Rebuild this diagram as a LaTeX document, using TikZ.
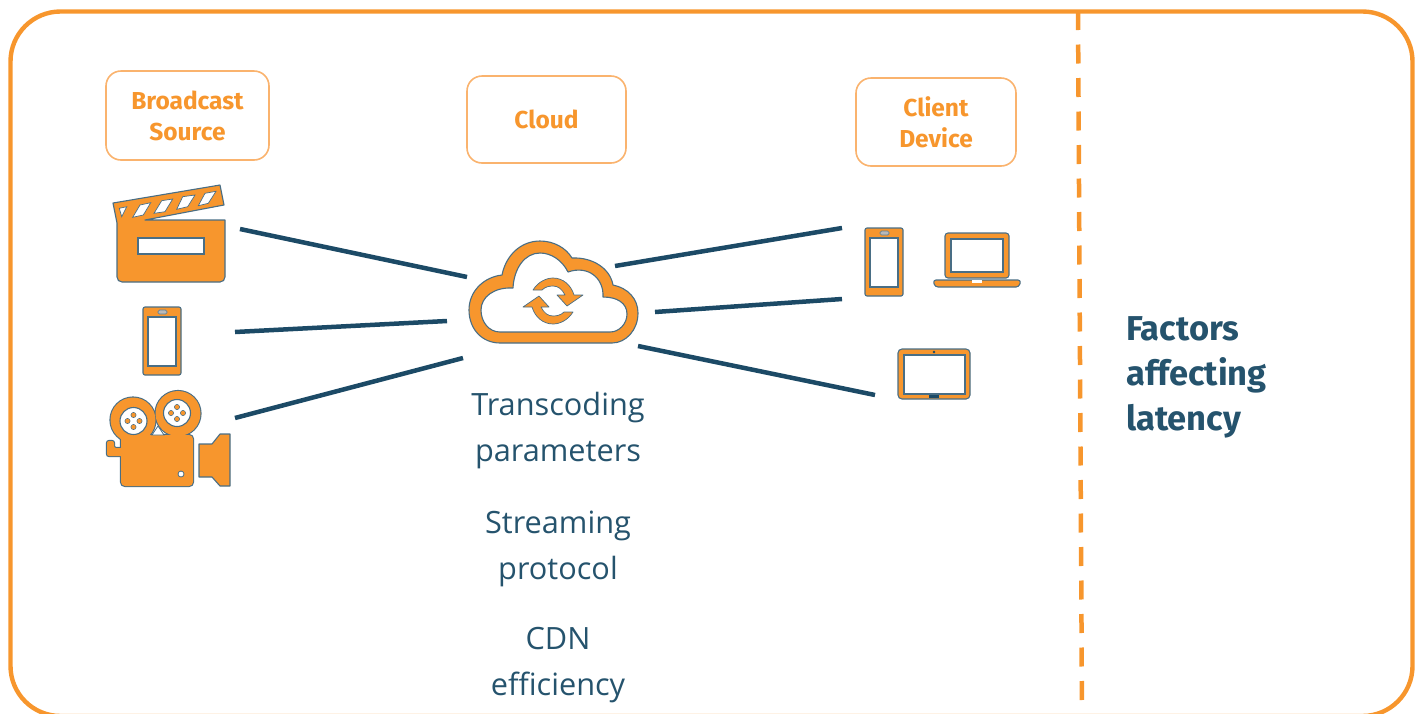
\documentclass[tikz,border=0pt]{standalone}
\usepackage{fontspec}
\setmainfont{Open Sans}
\newfontfamily\labelfont{Fira Sans}
\definecolor{org}{HTML}{F7962D}
\definecolor{orgl}{HTML}{FAB36E}
\definecolor{navy}{HTML}{1C4A66}
\definecolor{txt}{HTML}{25536D}
\tikzset{
  x=1pt,y=-1pt,
  frame/.style={draw=org,line width=4.4pt,rounded corners=50pt},
  headbox/.style={draw=orgl,line width=1.6pt,rounded corners=15pt,fill=white,inner sep=0pt,align=center,text=org,
    font=\labelfont\fontsize{24.5}{31}\selectfont\fontseries{sb}\selectfont},
  link/.style={draw=navy,line width=4.5pt},
  icon/.style={fill=org,draw=navy!80!white,line width=1.1pt,line join=round},
  hole/.style={fill=white,draw=navy!80!white,line width=1.1pt},
  factor/.style={text=txt,align=center,inner sep=0pt,font=\fontsize{30.7}{46}\selectfont},
  phoneicon/.pic={
    \draw[icon,rounded corners=2pt] (0,0) rectangle (38,68);
    \draw[hole] (5,10) rectangle (33,59);
    \draw[fill=gray!55,draw=navy!70!white,line width=.7pt,rounded corners=1.5pt] (15,3) rectangle (24,7);
  }
}
\newcommand{\camerashape}[1]{
  \path[#1] (133,420) circle (22.5);
  \path[#1] (178,413.5) circle (22.5);
  \path[#1,rounded corners=4pt] (121,435) -- (193,435) -- (193,486) -- (121,486) -- cycle;
  \path[#1,rounded corners=2pt] (124,448) -- (114,448) -- (114,441) -- (107,441) -- (107,456) -- (114,456) -- (124,456) -- cycle;
}
\begin{document}
\begin{tikzpicture}
\useasboundingbox (0,0) rectangle (1421,713);
\begin{scope}
\clip (0,0) rectangle (1421,713);
\draw[frame] (10.5,11.5) rectangle (1412.5,716);
\end{scope}
\coordinate (dashA) at (1078,11);
\coordinate (dashB) at (1082,713);
\draw[draw=org,line width=4.5pt,dash pattern=on 19pt off 14.5pt] (dashA) -- (dashB);

\node[headbox,minimum width=163pt,minimum height=89pt] (src) at (187.5,115.5) {Broadcast\\Source};
\node[headbox,minimum width=159pt,minimum height=87pt] (cld) at (546.5,119.5) {Cloud};
\node[headbox,minimum width=160pt,minimum height=88pt] (cli) at (936,122) {Client\\Device};

% clapperboard
\draw[icon] (113,203) -- (220,185) -- (224,205) -- (145,220) -- (225,220) [rounded corners=5pt] -- (225,282) -- (117,282) [sharp corners] -- (117,223) -- cycle;
\draw[hole] (138,238) rectangle (204,254);
\draw[hole,line width=.7pt] (119.3,208.3) -- (126.7,206.7) -- (121.7,216.7) -- cycle;
\draw[hole,line width=.7pt] (140,205) -- (150.7,202.7) -- (143.3,215) -- (132.7,217.3) -- cycle;
\draw[hole,line width=.7pt] (161.7,200.7) -- (172.7,199) -- (165,211.7) -- (154,213.3) -- cycle;
\draw[hole,line width=.7pt] (182.7,196.7) -- (195,195) -- (187.7,206.7) -- (176.7,209.3) -- cycle;
\draw[hole,line width=.7pt] (205,193.3) -- (216,191.3) -- (208.3,203.3) -- (198.3,205.7) -- cycle;

% source phone
\pic at (143,307) {phoneicon};

% movie camera: outlined silhouette, then the same shapes filled to merge them
\camerashape{draw=navy!80!white,line width=2.2pt}
\camerashape{fill=org}
\draw[hole,line width=.8pt] (152,435) -- (164,435) -- (158,426) -- cycle;
\foreach \cx/\cy in {133.5/421,177/413}{
  \draw[hole] (\cx,\cy) circle (13.5);
  \foreach \dx/\dy in {6/0,-6/0,0/6,0/-6}{
    \draw[icon,line width=.5pt] (\cx+\dx,\cy+\dy) circle (2.6);
  }
}
\draw[hole,line width=.8pt] (181,474) circle (3);
\draw[icon] (199,444) -- (212,444) -- (220,434) -- (230,434) -- (230,486) -- (220,486) -- (212,477) -- (199,477) -- cycle;

% cloud
\draw[icon,even odd rule]
  (500,343) .. controls (482,343) and (469,329) .. (469,310)
  .. controls (469,291) and (484,277) .. (502,275)
  .. controls (506,255) and (521,241) .. (540,241)
  .. controls (554,241) and (566,248) .. (572,258)
  .. controls (592,257) and (610,268) .. (613,285)
  .. controls (628,288) and (638,299) .. (638,313)
  .. controls (638,330) and (626,343) .. (612,343) -- cycle
  (500,332) .. controls (489,332) and (481,322) .. (481,310)
  .. controls (481,297) and (494,287) .. (513,288)
  .. controls (514,268) and (525,253) .. (540,253)
  .. controls (551,253) and (562,260) .. (568,272)
  .. controls (588,265) and (604,278) .. (603,297)
  .. controls (617,297) and (627,303) .. (627,314)
  .. controls (627,324) and (619,332) .. (610,332) -- cycle;
\foreach \ang in {0,180}{
\draw[icon,line width=.7pt,rotate around={\ang:(553,301)}]
  (533,290) .. controls (538,282) and (546,278) .. (553,278)
  .. controls (563,278) and (571,285) .. (574,295)
  -- (583,295) -- (567,306) -- (557,295) -- (565,295)
  .. controls (562,289) and (558,286) .. (553,286)
  .. controls (549,286) and (545,287) .. (542,290) -- cycle;
}

% client phone
\pic at (865,228) {phoneicon};

% laptop
\draw[icon,rounded corners=3pt] (945,278) -- (945,233) -- (1009,233) -- (1009,278) -- cycle;
\draw[hole] (951,239) rectangle (1003,272);
\draw[icon,rounded corners=3pt] (933,280) -- (1021,280) -- (1019,287) -- (935,287) -- cycle;
\fill[white] (972,280) rectangle (982,283);

% tablet
\draw[icon,rounded corners=4pt] (898,349) rectangle (970,399);
\draw[hole] (904,355) rectangle (965,394);
\fill[navy] (934,352) circle (1.3);
\fill[navy] (929,394.5) rectangle (939,398);

% connector end points
\coordinate (a1) at (240,229); \coordinate (a2) at (467,277);
\coordinate (b1) at (235,332); \coordinate (b2) at (447,321);
\coordinate (c1) at (235,418); \coordinate (c2) at (463,358);
\coordinate (d1) at (615,266); \coordinate (d2) at (842,228);
\coordinate (e1) at (655,312); \coordinate (e2) at (842,299);
\coordinate (f1) at (638,346); \coordinate (f2) at (875,395);
\draw[link] (a1) -- (a2);
\draw[link] (b1) -- (b2);
\draw[link] (c1) -- (c2);
\draw[link] (d1) -- (d2);
\draw[link] (e1) -- (e2);
\draw[link] (f1) -- (f2);

\node[factor] (t1) at (558,430.5) {Transcoding\\parameters};
\node[factor] (t2) at (558,548.5) {Streaming\\protocol};
\node[factor] (t3) at (558,665.5) {CDN\\efficiency};
\node[anchor=west,text=txt,align=left,inner sep=0pt,font=\labelfont\fontsize{34.5}{45}\selectfont\bfseries] (fac) at (1126,377.5) {Factors\\affecting\\latency};
\end{tikzpicture}
\end{document}
